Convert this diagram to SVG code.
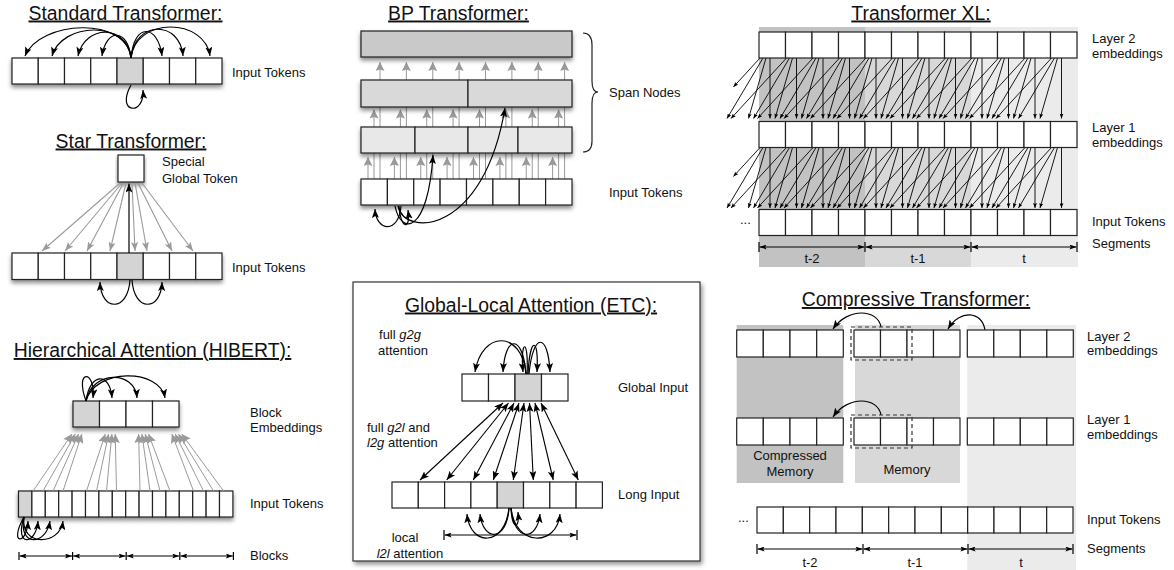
<svg xmlns="http://www.w3.org/2000/svg" xmlns:xlink="http://www.w3.org/1999/xlink" width="1174" height="570" viewBox="0 0 1174 570">
<defs>
<style>
.t{font-family:"Liberation Sans",Arial,Helvetica,sans-serif;font-size:19.4px;text-anchor:middle;text-decoration:underline;fill:#111}
.l{font-family:"Liberation Sans",Arial,Helvetica,sans-serif;font-size:13px;fill:#111}
.m{text-anchor:middle}
.c{fill:#fff;stroke:#222;stroke-width:1.2}
.g{fill:#d4d4d4;stroke:#222;stroke-width:1.2}
.k{fill:none;stroke:#000;stroke-width:1.2;marker-end:url(#a)}
.kb{fill:none;stroke:#000;stroke-width:1.1;marker-end:url(#a);marker-start:url(#a)}
.gs{fill:none;stroke:#9a9a9a;stroke-width:1.1;marker-end:url(#ag)}
.gb{fill:none;stroke:#9a9a9a;stroke-width:1;marker-end:url(#agb)}
.x{fill:none;stroke:#000;stroke-width:0.9;marker-end:url(#ax)}
.sg{fill:none;stroke:#000;stroke-width:1;marker-end:url(#as);marker-start:url(#as)}
.tk{stroke:#000;stroke-width:1.2}
.ds{fill:none;stroke:#333;stroke-width:1.2;stroke-dasharray:4 3}
</style>
<filter id="sh" x="-10%" y="-30%" width="120%" height="180%">
<feDropShadow dx="0" dy="3" stdDeviation="2.2" flood-color="#000" flood-opacity="0.45"/>
</filter>
<filter id="sh2" x="-5%" y="-5%" width="110%" height="110%">
<feDropShadow dx="2" dy="3" stdDeviation="2" flood-color="#000" flood-opacity="0.4"/>
</filter>
<marker id="a" viewBox="0 0 9 7" refX="9" refY="3.5" markerWidth="9" markerHeight="7" markerUnits="userSpaceOnUse" orient="auto-start-reverse"><path d="M0,0 L9,3.5 L0,7 L2,3.5 z" fill="#000"/></marker>
<marker id="ag" viewBox="0 0 9 7" refX="9" refY="3.5" markerWidth="9" markerHeight="7" markerUnits="userSpaceOnUse" orient="auto"><path d="M0,0 L9,3.5 L0,7 L2,3.5 z" fill="#9a9a9a"/></marker>
<marker id="agb" viewBox="0 0 9 9" refX="9" refY="4.5" markerWidth="9" markerHeight="9" markerUnits="userSpaceOnUse" orient="auto"><path d="M0,0 L9,4.5 L0,9 L1.5,4.5 z" fill="#9a9a9a"/></marker>
<marker id="ax" viewBox="0 0 5 4" refX="5" refY="2" markerWidth="5" markerHeight="4" markerUnits="userSpaceOnUse" orient="auto"><path d="M0,0 L5,2 L0,4 L1,2 z" fill="#000"/></marker>
<marker id="as" viewBox="0 0 7 5" refX="7" refY="2.5" markerWidth="7" markerHeight="5" markerUnits="userSpaceOnUse" orient="auto-start-reverse"><path d="M0,0 L7,2.5 L0,5 L1.5,2.5 z" fill="#000"/></marker>
</defs>
<rect width="1174" height="570" fill="#fff"/>

<!-- ===== background shading (Transformer XL, Compressive) ===== -->
<g id="xl-bands">
<rect x="759" y="27" width="106" height="240" fill="#c2c2c2"/>
<rect x="865" y="27" width="106" height="240" fill="#d8d8d8"/>
<rect x="971" y="27" width="107" height="240" fill="#ebebeb"/>
</g>
<g id="ct-bands">
<rect x="736.7" y="325" width="106.6" height="158" fill="#c2c2c2"/>
<rect x="855" y="325" width="105" height="158" fill="#d8d8d8"/>
<rect x="967.3" y="325" width="108.7" height="245" fill="#ebebeb"/>
</g>

<!-- ===== back connectors (BP gray lines behind span nodes) ===== -->
<g id="connectors-back">
<path class="gb" d="M368 180V157"/><path class="gb" d="M374 180V109.5"/><path class="gb" d="M380 180V62"/>
<path class="gb" d="M394.4 180V157"/><path class="gb" d="M400.4 180V109.5"/><path class="gb" d="M406.4 180V62"/>
<path class="gb" d="M420.75 180V157"/><path class="gb" d="M426.75 180V109.5"/><path class="gb" d="M432.75 180V62"/>
<path class="gb" d="M447.1 180V157"/><path class="gb" d="M453.1 180V109.5"/><path class="gb" d="M459.1 180V62"/>
<path class="gb" d="M473.5 180V157"/><path class="gb" d="M479.5 180V109.5"/><path class="gb" d="M485.5 180V62"/>
<path class="gb" d="M499.9 180V157"/><path class="gb" d="M505.9 180V109.5"/><path class="gb" d="M511.9 180V62"/>
<path class="gb" d="M526.25 180V157"/><path class="gb" d="M532.25 180V109.5"/><path class="gb" d="M538.25 180V62"/>
<path class="gb" d="M552.6 180V157"/><path class="gb" d="M558.6 180V109.5"/><path class="gb" d="M564.6 180V62"/>
</g>

<!-- ===== titles ===== -->
<g id="titles">
<text class="t" x="125.5" y="19.5">Standard Transformer:</text>
<text class="t" x="131" y="147.5">Star Transformer:</text>
<text class="t" x="152.5" y="357">Hierarchical Attention (HIBERT):</text>
<text class="t" x="458.5" y="19.5">BP Transformer:</text>
<text class="t" x="921" y="19.5">Transformer XL:</text>
<text class="t" x="916" y="306">Compressive Transformer:</text>
</g>

<!-- ===== ETC frame ===== -->
<g id="etc-frame">
<rect x="353" y="282" width="347" height="279" fill="#fff" stroke="#333" stroke-width="1.2" filter="url(#sh2)"/>
<text class="t" x="531" y="311.5">Global-Local Attention (ETC):</text>
</g>

<!-- ===== Standard Transformer ===== -->
<g id="std-tokens" filter="url(#sh)">
<rect class="c" x="12" y="58" width="26.25" height="26"/><rect class="c" x="38.25" y="58" width="26.25" height="26"/><rect class="c" x="64.5" y="58" width="26.25" height="26"/><rect class="c" x="90.75" y="58" width="26.25" height="26"/><rect class="g" x="117" y="58" width="26.25" height="26"/><rect class="c" x="143.25" y="58" width="26.25" height="26"/><rect class="c" x="169.5" y="58" width="26.25" height="26"/><rect class="c" x="195.75" y="58" width="26.25" height="26"/>
</g>
<g id="std-label"><text class="l" x="232" y="77">Input Tokens</text></g>

<!-- ===== Star Transformer ===== -->
<g id="star-global" filter="url(#sh)"><rect class="c" x="118" y="155" width="26" height="27"/></g>
<g id="star-global-label"><text class="l" x="162" y="166">Special</text><text class="l" x="162" y="183">Global Token</text></g>
<g id="star-tokens" filter="url(#sh)">
<rect class="c" x="12" y="253" width="26.25" height="26.5"/><rect class="c" x="38.25" y="253" width="26.25" height="26.5"/><rect class="c" x="64.5" y="253" width="26.25" height="26.5"/><rect class="c" x="90.75" y="253" width="26.25" height="26.5"/><rect class="g" x="117" y="253" width="26.25" height="26.5"/><rect class="c" x="143.25" y="253" width="26.25" height="26.5"/><rect class="c" x="169.5" y="253" width="26.25" height="26.5"/><rect class="c" x="195.75" y="253" width="26.25" height="26.5"/>
</g>
<g id="star-label"><text class="l" x="232" y="272">Input Tokens</text></g>

<!-- ===== HIBERT ===== -->
<g id="hib-blocks" filter="url(#sh)">
<rect class="g" x="73" y="401" width="26.5" height="26"/><rect class="c" x="99.5" y="401" width="26.5" height="26"/><rect class="c" x="126" y="401" width="26.5" height="26"/><rect class="c" x="152.5" y="401" width="26.5" height="26"/>
</g>
<g id="hib-blocks-label"><text class="l" x="250" y="417">Block</text><text class="l" x="250" y="432">Embeddings</text></g>
<g id="hib-tokens" filter="url(#sh)">
<rect class="g" x="18.5" y="491" width="13.4" height="26"/><rect class="c" x="31.9" y="491" width="13.4" height="26"/><rect class="c" x="45.3" y="491" width="13.4" height="26"/><rect class="c" x="58.7" y="491" width="13.4" height="26"/><rect class="c" x="72.1" y="491" width="13.4" height="26"/><rect class="c" x="85.5" y="491" width="13.4" height="26"/><rect class="c" x="98.9" y="491" width="13.4" height="26"/><rect class="c" x="112.3" y="491" width="13.4" height="26"/><rect class="c" x="125.7" y="491" width="13.4" height="26"/><rect class="c" x="139.1" y="491" width="13.4" height="26"/><rect class="c" x="152.5" y="491" width="13.4" height="26"/><rect class="c" x="165.9" y="491" width="13.4" height="26"/><rect class="c" x="179.3" y="491" width="13.4" height="26"/><rect class="c" x="192.7" y="491" width="13.4" height="26"/><rect class="c" x="206.1" y="491" width="13.4" height="26"/><rect class="c" x="219.5" y="491" width="13.4" height="26"/>
</g>
<g id="hib-tokens-label"><text class="l" x="250" y="508">Input Tokens</text></g>
<g id="hib-blocks-range-label"><text class="l" x="250" y="560">Blocks</text></g>

<!-- ===== BP Transformer ===== -->
<g id="bp-span-top" filter="url(#sh)"><rect x="361" y="31" width="211" height="26" fill="#c9c9c9" stroke="#222" stroke-width="1.2"/></g>
<g id="bp-span-mid" filter="url(#sh)"><rect x="361" y="80" width="107" height="27" fill="#d9d9d9" stroke="#222" stroke-width="1.2"/><rect x="468" y="80" width="104" height="27" fill="#d9d9d9" stroke="#222" stroke-width="1.2"/></g>
<g id="bp-span-low" filter="url(#sh)"><rect x="361" y="127" width="54" height="26" fill="#e8e8e8" stroke="#222" stroke-width="1.2"/><rect x="415" y="127" width="53" height="26" fill="#e8e8e8" stroke="#222" stroke-width="1.2"/><rect x="468" y="127" width="50" height="26" fill="#e8e8e8" stroke="#222" stroke-width="1.2"/><rect x="518" y="127" width="54" height="26" fill="#e8e8e8" stroke="#222" stroke-width="1.2"/></g>
<g id="bp-tokens" filter="url(#sh)">
<rect class="c" x="361" y="179" width="26.4" height="26"/><rect class="c" x="387.4" y="179" width="26.35" height="26"/><rect class="c" x="413.75" y="179" width="26.35" height="26"/><rect class="c" x="440.1" y="179" width="26.4" height="26"/><rect class="c" x="466.5" y="179" width="26.4" height="26"/><rect class="c" x="492.9" y="179" width="26.35" height="26"/><rect class="c" x="519.25" y="179" width="26.35" height="26"/><rect class="c" x="545.6" y="179" width="26.4" height="26"/>
</g>
<g id="bp-brace"><path d="M583 33Q592 33 592 45L592 81Q592 92 598 92Q592 92 592 103L592 141Q592 152 583 152" fill="none" stroke="#222" stroke-width="1.2"/></g>
<g id="bp-labels"><text class="l" x="609" y="97">Span Nodes</text><text class="l" x="609" y="197">Input Tokens</text></g>

<!-- ===== ETC ===== -->
<g id="etc-global">
<rect class="c" x="462" y="374" width="26.5" height="27"/><rect class="c" x="488.5" y="374" width="26.5" height="27"/><rect class="g" x="515" y="374" width="26.5" height="27"/><rect class="c" x="541.5" y="374" width="26.5" height="27"/>
</g>
<g id="etc-long">
<rect class="c" x="392" y="482" width="26.3" height="26"/><rect class="c" x="418.3" y="482" width="26.3" height="26"/><rect class="c" x="444.6" y="482" width="26.3" height="26"/><rect class="c" x="470.9" y="482" width="26.3" height="26"/><rect class="g" x="497.2" y="482" width="26.3" height="26"/><rect class="c" x="523.5" y="482" width="26.3" height="26"/><rect class="c" x="549.8" y="482" width="26.3" height="26"/><rect class="c" x="576.1" y="482" width="26.3" height="26"/>
</g>
<g id="etc-labels">
<text class="l m" x="400" y="339">full <tspan font-style="italic">g2g</tspan></text>
<text class="l m" x="403" y="355">attention</text>
<text class="l" x="367" y="432">full <tspan font-style="italic">g2l</tspan> and</text>
<text class="l" x="367" y="447"><tspan font-style="italic">l2g</tspan> attention</text>
<text class="l" x="618" y="392">Global Input</text>
<text class="l" x="618" y="499">Long Input</text>
<text class="l m" x="405" y="542">local</text>
<text class="l m" x="410" y="558"><tspan font-style="italic">l2l</tspan> attention</text>
</g>

<!-- ===== connectors ===== -->
<g id="connectors">
<!-- Standard -->
<path class="k" d="M131 58C127 16 40 20 25 56"/>
<path class="k" d="M131 58C127 20 62 22 52 56"/>
<path class="k" d="M131 58C127 24 85 24 78 56"/>
<path class="k" d="M131 58C128 28 106 28 102 56"/>
<path class="k" d="M131 58C134 22 158 24 162 56"/>
<path class="k" d="M131 58C135 20 180 20 183 56"/>
<path class="k" d="M131 58C136 16 205 18 210 56"/>
<path class="k" d="M131 85C115 114 145 116 143 90"/>
<!-- Star -->
<path class="gs" d="M120 183L42 251"/><path class="gs" d="M122 183L65 251"/><path class="gs" d="M123.5 183L87 251"/><path class="gs" d="M126 183L110 251"/>
<path class="gs" d="M132 183L135 251"/><path class="gs" d="M135 183L147 251"/><path class="gs" d="M138 183L172 251"/><path class="gs" d="M142 183L193 251"/>
<path class="k" d="M129 253L129 183.5"/>
<path class="k" d="M130 280C128 312 101 312 100 282"/>
<path class="k" d="M132 280C134 312 161 312 162 282"/>
<!-- HIBERT -->
<path class="gb" d="M33 491L72 434"/><path class="gb" d="M43 491L75.3 434"/><path class="gb" d="M53 491L78.6 434"/><path class="gb" d="M63 491L81.9 434"/>
<path class="gb" d="M86.5 491L105.3 434"/><path class="gb" d="M96.5 491L108.6 434"/><path class="gb" d="M106.5 491L111.9 434"/><path class="gb" d="M116.5 491L115.2 434"/>
<path class="gb" d="M140 491L138.6 434"/><path class="gb" d="M150 491L141.9 434"/><path class="gb" d="M160 491L145.2 434"/><path class="gb" d="M170 491L148.5 434"/>
<path class="gb" d="M193.5 491L171.9 434"/><path class="gb" d="M203.5 491L175.2 434"/><path class="gb" d="M213.5 491L178.5 434"/><path class="gb" d="M223.5 491L181.8 434"/>
<path class="k" d="M86 401C74 368 96 370 93 398"/>
<path class="k" d="M86 401C90 372 110 372 112 398"/>
<path class="k" d="M86 401C92 370 135 370 137 398"/>
<path class="k" d="M86 401C95 368 160 368 165 398"/>
<path class="k" d="M24 517C8 545 27 546 28 521"/>
<path class="k" d="M24 517C14 547 36 546 38 521"/>
<path class="k" d="M24 517C18 547 46 546 50 521"/>
<path class="k" d="M24 517C20 547 60 546 63 521"/>
<line class="tk" x1="19" y1="552" x2="19" y2="560"/><line class="tk" x1="72.6" y1="552" x2="72.6" y2="560"/><line class="tk" x1="126.2" y1="552" x2="126.2" y2="560"/><line class="tk" x1="179.8" y1="552" x2="179.8" y2="560"/><line class="tk" x1="233.4" y1="552" x2="233.4" y2="560"/>
<path class="sg" d="M19.6 556H72"/><path class="sg" d="M73.2 556H125.6"/><path class="sg" d="M126.8 556H179.2"/><path class="sg" d="M180.4 556H232.8"/>
<!-- BP -->
<path class="k" d="M401 206C399 234 376 232 375 209"/>
<path class="k" d="M399 206C400 228 411 232 408 210"/>
<path class="k" d="M395 206C401 236 428 234 433 155"/>
<path class="k" d="M398 206C405 238 484 234 505 108"/>
<!-- ETC -->
<path class="k" d="M526 374C522 330 482 330 475 372"/>
<path class="k" d="M526 374C523 334 505 334 503 372"/>
<path class="k" d="M527 374C529 338 520 338 523 372"/>
<path class="k" d="M528 374C530 336 539 336 537 372"/>
<path class="k" d="M529 374C533 332 548 332 550 372"/>
<path class="kb" d="M420 480L503 403"/><path class="kb" d="M446.7 480L508.5 403"/><path class="kb" d="M473.3 480L514 403"/><path class="kb" d="M493.3 480L519 403"/>
<path class="kb" d="M513.3 480L524 403"/><path class="kb" d="M533.3 480L529.5 403"/><path class="kb" d="M553.3 480L535 403"/><path class="kb" d="M578.3 480L541 403"/>
<path class="k" d="M509 508C505 547 470 547 467 514"/>
<path class="k" d="M509 508C507 542 483 542 480 514"/>
<path class="k" d="M511 508C512 530 520 530 518 512"/>
<path class="k" d="M511 508C514 542 537 542 540 514"/>
<path class="k" d="M511 508C515 547 557 547 560 514"/>
<line class="tk" x1="444" y1="530" x2="444" y2="540"/><line class="tk" x1="577" y1="530" x2="577" y2="540"/>
<path class="sg" d="M444.6 535H576.4"/>
<!-- Transformer XL -->
<g id="xl-edges">
<path class="x" d="M770 58V118.5"/><path class="x" d="M796.5 58V118.5"/><path class="x" d="M823 58V118.5"/><path class="x" d="M849.5 58V118.5"/><path class="x" d="M876 58V118.5"/><path class="x" d="M902.5 58V118.5"/><path class="x" d="M929 58V118.5"/><path class="x" d="M955.5 58V118.5"/><path class="x" d="M982 58V118.5"/><path class="x" d="M1008.5 58V118.5"/><path class="x" d="M1035 58V118.5"/><path class="x" d="M1061.5 58V118.5"/>
<path class="x" d="M766 58L748.5 118.5"/><path class="x" d="M792.5 58L775 118.5"/><path class="x" d="M819 58L801.5 118.5"/><path class="x" d="M845.5 58L828 118.5"/><path class="x" d="M872 58L854.5 118.5"/><path class="x" d="M898.5 58L881 118.5"/><path class="x" d="M925 58L907.5 118.5"/><path class="x" d="M951.5 58L934 118.5"/><path class="x" d="M978 58L960.5 118.5"/><path class="x" d="M1004.5 58L987 118.5"/><path class="x" d="M1031 58L1013.5 118.5"/><path class="x" d="M1057.5 58L1040 118.5"/>
<path class="x" d="M763 58L727 118.5"/><path class="x" d="M789.5 58L753.5 118.5"/><path class="x" d="M816 58L780 118.5"/><path class="x" d="M842.5 58L806.5 118.5"/><path class="x" d="M869 58L833 118.5"/><path class="x" d="M895.5 58L859.5 118.5"/><path class="x" d="M922 58L886 118.5"/><path class="x" d="M948.5 58L912.5 118.5"/><path class="x" d="M975 58L939 118.5"/><path class="x" d="M1001.5 58L965.5 118.5"/><path class="x" d="M1028 58L992 118.5"/><path class="x" d="M1054.5 58L1018.5 118.5"/>
<path class="x" d="M760 58L733.4 87"/><path class="x" d="M786.5 58L731 118.5"/><path class="x" d="M813 58L757.5 118.5"/><path class="x" d="M839.5 58L784 118.5"/><path class="x" d="M866 58L810.5 118.5"/><path class="x" d="M892.5 58L837 118.5"/><path class="x" d="M919 58L863.5 118.5"/><path class="x" d="M945.5 58L890 118.5"/><path class="x" d="M972 58L916.5 118.5"/><path class="x" d="M998.5 58L943 118.5"/><path class="x" d="M1025 58L969.5 118.5"/><path class="x" d="M1051.5 58L996 118.5"/>
</g>
<use xlink:href="#xl-edges" href="#xl-edges" transform="translate(0,89.5)"/>
<line class="tk" x1="759" y1="242" x2="759" y2="252"/><line class="tk" x1="865" y1="242" x2="865" y2="252"/><line class="tk" x1="971" y1="242" x2="971" y2="252"/><line class="tk" x1="1077" y1="242" x2="1077" y2="252"/>
<path class="sg" d="M759.6 247H864.4"/><path class="sg" d="M865.6 247H970.4"/><path class="sg" d="M971.6 247H1076.4"/>
<!-- Compressive -->
<path class="k" d="M881 327C878 309 848 307 833 329"/>
<path class="k" d="M985 330C982 311 960 309 948 329"/>
<path class="k" d="M881 415C878 397 848 395 833 417"/>
<line class="tk" x1="757" y1="544" x2="757" y2="554"/><line class="tk" x1="863" y1="544" x2="863" y2="554"/><line class="tk" x1="968" y1="544" x2="968" y2="554"/><line class="tk" x1="1073" y1="544" x2="1073" y2="554"/>
<path class="sg" d="M757.6 549H862.4"/><path class="sg" d="M863.6 549H967.4"/><path class="sg" d="M968.6 549H1072.4"/>
</g>

<!-- ===== Transformer XL nodes ===== -->
<g id="xl-layer2">
<rect class="c" x="759" y="32" width="26.5" height="26"/><rect class="c" x="785.5" y="32" width="26.5" height="26"/><rect class="c" x="812" y="32" width="26.5" height="26"/><rect class="c" x="838.5" y="32" width="26.5" height="26"/><rect class="c" x="865" y="32" width="26.5" height="26"/><rect class="c" x="891.5" y="32" width="26.5" height="26"/><rect class="c" x="918" y="32" width="26.5" height="26"/><rect class="c" x="944.5" y="32" width="26.5" height="26"/><rect class="c" x="971" y="32" width="26.5" height="26"/><rect class="c" x="997.5" y="32" width="26.5" height="26"/><rect class="c" x="1024" y="32" width="26.5" height="26"/><rect class="c" x="1050.5" y="32" width="26.5" height="26"/>
</g>
<g id="xl-layer1">
<rect class="c" x="759" y="121.5" width="26.5" height="26"/><rect class="c" x="785.5" y="121.5" width="26.5" height="26"/><rect class="c" x="812" y="121.5" width="26.5" height="26"/><rect class="c" x="838.5" y="121.5" width="26.5" height="26"/><rect class="c" x="865" y="121.5" width="26.5" height="26"/><rect class="c" x="891.5" y="121.5" width="26.5" height="26"/><rect class="c" x="918" y="121.5" width="26.5" height="26"/><rect class="c" x="944.5" y="121.5" width="26.5" height="26"/><rect class="c" x="971" y="121.5" width="26.5" height="26"/><rect class="c" x="997.5" y="121.5" width="26.5" height="26"/><rect class="c" x="1024" y="121.5" width="26.5" height="26"/><rect class="c" x="1050.5" y="121.5" width="26.5" height="26"/>
</g>
<g id="xl-input">
<rect class="c" x="759" y="209.5" width="26.5" height="26"/><rect class="c" x="785.5" y="209.5" width="26.5" height="26"/><rect class="c" x="812" y="209.5" width="26.5" height="26"/><rect class="c" x="838.5" y="209.5" width="26.5" height="26"/><rect class="c" x="865" y="209.5" width="26.5" height="26"/><rect class="c" x="891.5" y="209.5" width="26.5" height="26"/><rect class="c" x="918" y="209.5" width="26.5" height="26"/><rect class="c" x="944.5" y="209.5" width="26.5" height="26"/><rect class="c" x="971" y="209.5" width="26.5" height="26"/><rect class="c" x="997.5" y="209.5" width="26.5" height="26"/><rect class="c" x="1024" y="209.5" width="26.5" height="26"/><rect class="c" x="1050.5" y="209.5" width="26.5" height="26"/>
</g>
<g id="xl-labels">
<text class="l" x="1092" y="43">Layer 2</text><text class="l" x="1092" y="58">embeddings</text>
<text class="l" x="1092" y="132">Layer 1</text><text class="l" x="1092" y="147">embeddings</text>
<text class="l" x="1092" y="226">Input Tokens</text><text class="l" x="1092" y="248">Segments</text>
<text class="l" x="740" y="224">...</text>
<text class="l m" x="812" y="263">t-2</text><text class="l m" x="918" y="263">t-1</text><text class="l m" x="1024" y="263">t</text>
</g>

<!-- ===== Compressive Transformer nodes ===== -->
<g id="ct-layer2">
<rect class="c" x="736.7" y="330" width="26.6" height="27"/><rect class="c" x="763.3" y="330" width="26.7" height="27"/><rect class="c" x="790" y="330" width="26.7" height="27"/><rect class="c" x="816.7" y="330" width="26.6" height="27"/>
<rect class="c" x="854" y="330" width="26.5" height="27"/><rect class="c" x="880.5" y="330" width="26.5" height="27"/><rect class="c" x="907" y="330" width="26.5" height="27"/><rect class="c" x="933.5" y="330" width="26.5" height="27"/>
<rect class="c" x="967.3" y="330" width="26.5" height="27"/><rect class="c" x="993.8" y="330" width="26.5" height="27"/><rect class="c" x="1020.3" y="330" width="26.5" height="27"/><rect class="c" x="1046.8" y="330" width="26.5" height="27"/>
</g>
<g id="ct-layer2-select"><rect class="ds" x="851" y="327" width="61" height="33"/></g>
<g id="ct-layer1">
<rect class="c" x="736.7" y="418" width="26.6" height="27"/><rect class="c" x="763.3" y="418" width="26.7" height="27"/><rect class="c" x="790" y="418" width="26.7" height="27"/><rect class="c" x="816.7" y="418" width="26.6" height="27"/>
<rect class="c" x="854" y="418" width="26.5" height="27"/><rect class="c" x="880.5" y="418" width="26.5" height="27"/><rect class="c" x="907" y="418" width="26.5" height="27"/><rect class="c" x="933.5" y="418" width="26.5" height="27"/>
<rect class="c" x="967.3" y="418" width="26.5" height="27"/><rect class="c" x="993.8" y="418" width="26.5" height="27"/><rect class="c" x="1020.3" y="418" width="26.5" height="27"/><rect class="c" x="1046.8" y="418" width="26.5" height="27"/>
</g>
<g id="ct-layer1-select"><rect class="ds" x="851" y="415" width="61" height="33"/></g>
<g id="ct-input">
<rect class="c" x="757" y="507" width="26.33" height="26"/><rect class="c" x="783.33" y="507" width="26.33" height="26"/><rect class="c" x="809.67" y="507" width="26.33" height="26"/><rect class="c" x="836" y="507" width="26.33" height="26"/><rect class="c" x="862.33" y="507" width="26.33" height="26"/><rect class="c" x="888.67" y="507" width="26.33" height="26"/><rect class="c" x="915" y="507" width="26.33" height="26"/><rect class="c" x="941.33" y="507" width="26.33" height="26"/><rect class="c" x="967.67" y="507" width="26.33" height="26"/><rect class="c" x="994" y="507" width="26.33" height="26"/><rect class="c" x="1020.33" y="507" width="26.33" height="26"/><rect class="c" x="1046.67" y="507" width="26.33" height="26"/>
</g>
<g id="ct-labels">
<text class="l" x="1087" y="341">Layer 2</text><text class="l" x="1087" y="355">embeddings</text>
<text class="l" x="1087" y="424">Layer 1</text><text class="l" x="1087" y="439">embeddings</text>
<text class="l" x="1087" y="524">Input Tokens</text><text class="l" x="1087" y="553">Segments</text>
<text class="l m" x="790" y="460">Compressed</text><text class="l m" x="790" y="476">Memory</text>
<text class="l m" x="907" y="474">Memory</text>
<text class="l" x="738" y="522">...</text>
<text class="l m" x="810" y="567">t-2</text><text class="l m" x="915" y="567">t-1</text><text class="l m" x="1021" y="567">t</text>
</g>
</svg>
